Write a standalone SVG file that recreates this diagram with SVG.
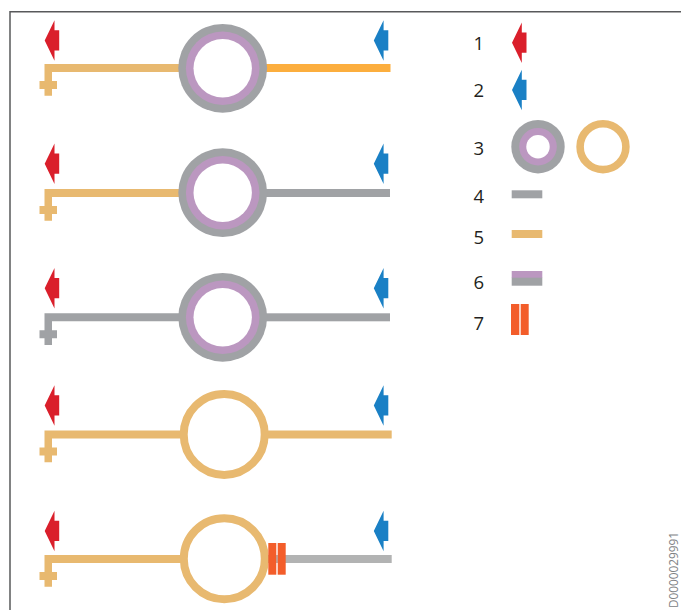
<svg xmlns="http://www.w3.org/2000/svg" width="681" height="610" viewBox="0 0 681 610">
<style>
.hot{fill:#da1f2b}.cold{fill:#1a80c5}.tan{fill:#e8b970}.grey{fill:#a0a2a5}.amber{fill:#fcae3e}.lgrey{fill:#b2b3b3}.red{fill:#f35d2a}.pur{fill:#bb97c0}
.num{font:18.5px "Open Sans",sans-serif;fill:#231f20}
.id{font:11.8px "Open Sans",sans-serif;fill:#808285}
.frame{fill:none;stroke:#58595b;stroke-width:1.5}
</style>
<defs>
<path id="arrow" d="M0 0L9.800-20.300V-10.200H14.500V10H9.800V20.300Z"/>
<path id="pipeL" d="M0-4H140V4H7.500V13H12.500V21H7.500V27.700H0V21H-5V13H0Z"/>
<g id="insulated">
<circle r="44.400" fill="#a0a2a5"/><circle r="36.800" fill="#bb97c0"/><circle r="29.200" fill="#fff"/>
</g>
<circle id="plain" r="40.500" fill="#fff" stroke="#e8b970" stroke-width="8"/>
</defs>
<path class="frame" d="M681 11.800H10V610"/>
<g id="connectors">
<use href="#pipeL" x="44.500" y="68" class="tan"/>
<rect x="260" y="64" width="130.500" height="8" class="amber"/>
<use href="#pipeL" x="44.500" y="193" class="tan"/>
<rect x="260" y="189" width="130" height="8" class="grey"/>
<use href="#pipeL" x="44.500" y="317.300" class="grey"/>
<rect x="260" y="313.300" width="130" height="8" class="grey"/>
<use href="#pipeL" x="44.500" y="434.500" class="tan"/>
<rect x="260" y="430.500" width="131.700" height="8" class="tan"/>
<use href="#pipeL" x="44.500" y="559" class="tan"/>
<rect x="262" y="555" width="129.700" height="8" class="lgrey"/>
</g>
<g id="row1">
<use href="#arrow" x="44.700" y="40.500" class="hot"/><use href="#arrow" x="373.800" y="40.500" class="cold"/>
<use href="#insulated" x="222.700" y="68.300"/>
</g>
<g id="row2">
<use href="#arrow" x="44.700" y="163.700" class="hot"/><use href="#arrow" x="373.800" y="163.700" class="cold"/>
<use href="#insulated" x="222.700" y="192.700"/>
</g>
<g id="row3">
<use href="#arrow" x="44.700" y="288.300" class="hot"/><use href="#arrow" x="373.800" y="288.300" class="cold"/>
<use href="#insulated" x="222.700" y="317.300"/>
</g>
<g id="row4">
<use href="#arrow" x="44.700" y="405.500" class="hot"/><use href="#arrow" x="373.800" y="405.500" class="cold"/>
<use href="#plain" x="224.200" y="434.400"/>
</g>
<g id="row5">
<use href="#arrow" x="44.700" y="531" class="hot"/><use href="#arrow" x="373.800" y="531" class="cold"/>
<use href="#plain" x="224.300" y="558.800"/>
<rect x="268.300" y="543" width="8" height="31.700" class="red"/>
<rect x="277.700" y="543" width="8" height="31.700" class="red"/>
</g>
<g id="legend">
<text class="num" x="473.500" y="50">1</text>
<use href="#arrow" x="512" y="42.700" class="hot"/>
<text class="num" x="473.500" y="97">2</text>
<use href="#arrow" x="512" y="90" class="cold"/>
<text class="num" x="473.500" y="155">3</text>
<circle cx="538" cy="146.700" r="26.700" fill="#a0a2a5"/><circle cx="538" cy="146.700" r="18.800" fill="#bb97c0"/><circle cx="538" cy="146.700" r="11.700" fill="#fff"/>
<circle cx="603" cy="146.700" r="22.900" fill="#fff" stroke="#e8b970" stroke-width="7.600"/>
<text class="num" x="473.500" y="203">4</text>
<rect x="511.700" y="190.300" width="30.600" height="8" class="grey"/>
<text class="num" x="473.500" y="244">5</text>
<rect x="511.700" y="230" width="30.600" height="8" class="tan"/>
<text class="num" x="473.500" y="289">6</text>
<rect x="511.700" y="271" width="30.600" height="7" class="pur"/>
<rect x="511.700" y="277.700" width="30.600" height="8" class="grey"/>
<text class="num" x="473.500" y="330">7</text>
<rect x="511" y="304" width="8.300" height="31" class="red"/>
<rect x="520.700" y="304" width="8" height="31" class="red"/>
</g>
<text class="id" transform="translate(678 608) rotate(-90)">D0000029991</text>
</svg>
